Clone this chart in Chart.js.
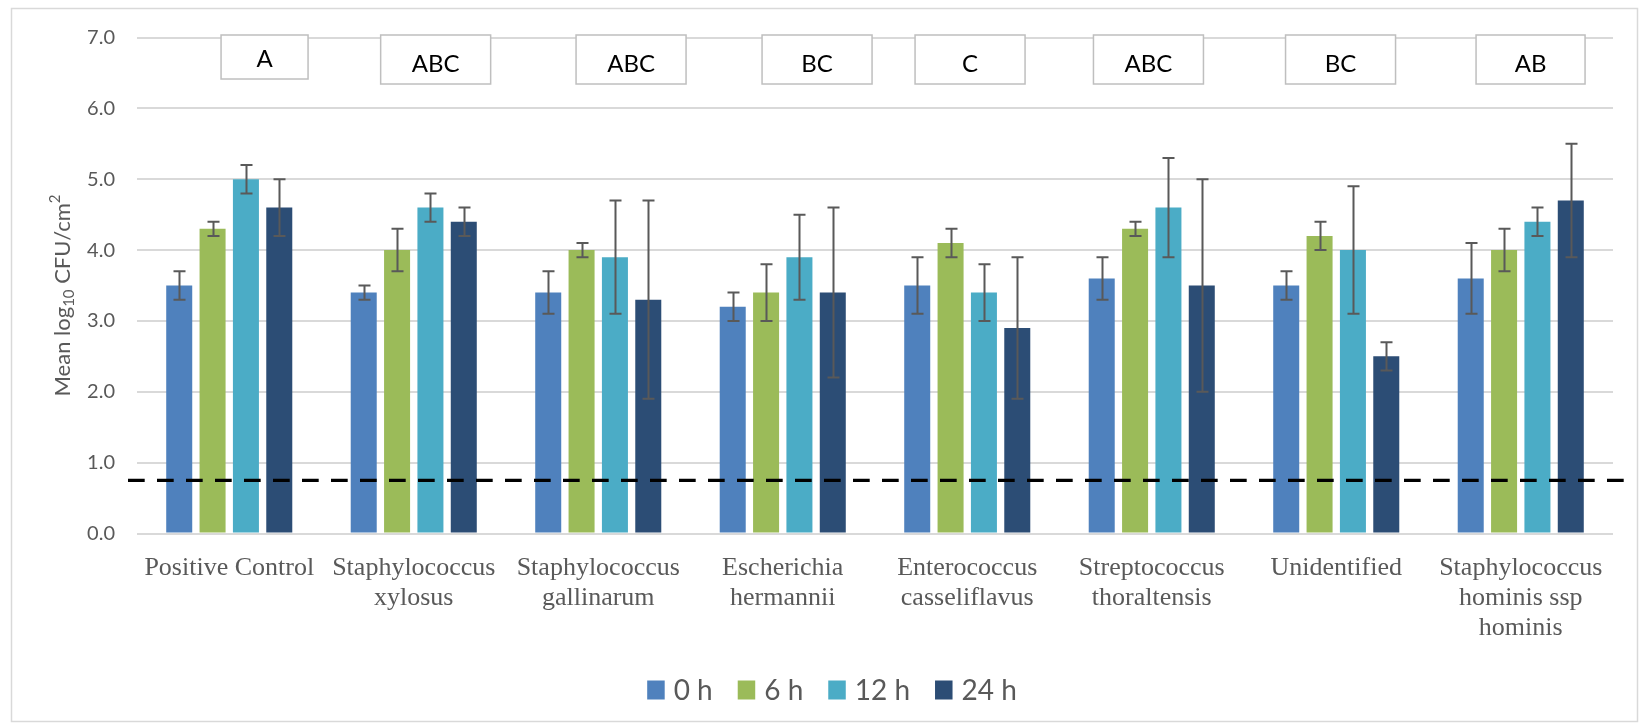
<!DOCTYPE html>
<html><head><meta charset="utf-8">
<script src="https://cdn.jsdelivr.net/npm/chart.js@4.4.0/dist/chart.umd.min.js"></script>
<style>html,body{margin:0;padding:0;background:#fff;} #wrap{width:1640px;height:724px;position:relative;}</style>
</head><body><div id="wrap"><canvas id="c" width="1640" height="724"></canvas></div>
<script>
const categories = [
  ['Positive Control'],
  ['Staphylococcus', 'xylosus'],
  ['Staphylococcus', 'gallinarum'],
  ['Escherichia', 'hermannii'],
  ['Enterococcus', 'casseliflavus'],
  ['Streptococcus', 'thoraltensis'],
  ['Unidentified'],
  ['Staphylococcus', 'hominis ssp', 'hominis']
];
const seriesNames = ['0 h', '6 h', '12 h', '24 h'];
const values0h  = [3.5, 3.4, 3.4, 3.2, 3.5, 3.6, 3.5, 3.6];
const values6h  = [4.3, 4.0, 4.0, 3.4, 4.1, 4.3, 4.2, 4.0];
const values12h = [5.0, 4.6, 3.9, 3.9, 3.4, 4.6, 4.0, 4.4];
const values24h = [4.6, 4.4, 3.3, 3.4, 2.9, 3.5, 2.5, 4.7];
const err0h  = [0.2, 0.1, 0.3, 0.2, 0.4, 0.3, 0.2, 0.5];
const err6h  = [0.1, 0.3, 0.1, 0.4, 0.2, 0.1, 0.2, 0.3];
const err12h = [0.2, 0.2, 0.8, 0.6, 0.4, 0.7, 0.9, 0.2];
const err24h = [0.4, 0.2, 1.4, 1.2, 1.0, 1.5, 0.2, 0.8];
const letters = ['A', 'ABC', 'ABC', 'BC', 'C', 'ABC', 'BC', 'AB'];
const detectionLimit = 0.75;
const yTicks = [0, 1, 2, 3, 4, 5, 6, 7];

const colors = ['#4F81BD', '#9BBB59', '#4BACC6', '#2C4D75'];
const allValues = [values0h, values6h, values12h, values24h];
const allErrors = [err0h, err6h, err12h, err24h];

const datasets = seriesNames.map((name, i) => ({
  label: name,
  data: allValues[i],
  errors: allErrors[i],
  backgroundColor: colors[i],
  borderWidth: 0,
  barPercentage: 0.78,
  categoryPercentage: 0.723
}));

const overlay = {
  id: 'overlay',
  beforeDraw(chart) {
    const ctx = chart.ctx;
    ctx.save();
    ctx.fillStyle = '#fff';
    ctx.fillRect(0, 0, chart.width, chart.height);
    ctx.strokeStyle = '#d9d9d9';
    ctx.lineWidth = 1.5;
    ctx.strokeRect(11.5, 8.5, 1626, 713);
    ctx.restore();
  },
  afterDatasetsDraw(chart, args, opts) {
    const ctx = chart.ctx, y = chart.scales.y, x = chart.scales.x, area = chart.chartArea;
    // detection limit line
    const yl = y.getPixelForValue(detectionLimit);
    ctx.save();
    ctx.strokeStyle = '#000';
    ctx.lineWidth = 3.2;
    ctx.setLineDash([16.7, 12.3]);
    ctx.beginPath();
    ctx.moveTo(area.left - 9, yl);
    ctx.lineTo(area.right + 12, yl);
    ctx.stroke();
    ctx.restore();
    // error bars
    ctx.save();
    ctx.strokeStyle = '#595959';
    ctx.lineWidth = 2;
    chart.data.datasets.forEach((ds, i) => {
      const meta = chart.getDatasetMeta(i);
      meta.data.forEach((bar, j) => {
        const v = ds.data[j], e = ds.errors[j];
        const t = y.getPixelForValue(v + e), b = y.getPixelForValue(v - e);
        const bx = Math.round(bar.x) + 0.5;
        ctx.beginPath();
        ctx.moveTo(bx, t); ctx.lineTo(bx, b);
        ctx.moveTo(bx - 6, t); ctx.lineTo(bx + 6, t);
        ctx.moveTo(bx - 6, b); ctx.lineTo(bx + 6, b);
        ctx.stroke();
      });
    });
    ctx.restore();
    // letter boxes
    const y7 = y.getPixelForValue(7);
    ctx.save();
    ctx.font = '24px Lato';
    ctx.textAlign = 'center';
    ctx.textBaseline = 'alphabetic';
    letters.forEach((L, i) => {
      const cx = x.getPixelForValue(i) + opts.dx[i];
      const w = opts.w[i], h = opts.h[i];
      const top = y7 - 2.5;
      ctx.fillStyle = '#fff';
      ctx.fillRect(cx - w / 2, top, w, h);
      ctx.strokeStyle = '#bfbfbf';
      ctx.lineWidth = 1.5;
      ctx.strokeRect(cx - w / 2, top, w, h);
      ctx.fillStyle = '#000';
      ctx.fillText(L, cx, top + h - 12);
    });
    ctx.restore();
  },
  afterDraw(chart, args, opts) {
    const ctx = chart.ctx, area = chart.chartArea;
    // y-axis title with sub/superscripts
    ctx.save();
    const cy = (area.top + area.bottom) / 2 + 10;
    ctx.translate(63, cy);
    ctx.rotate(-Math.PI / 2);
    ctx.fillStyle = '#595959';
    ctx.textBaseline = 'middle';
    ctx.textAlign = 'left';
    const big = '22px Lato', small = '15px Lato';
    const parts = [['Mean log', big, 0], ['10', small, 6], [' CFU/cm', big, 0], ['2', small, -8]];
    let total = 0;
    parts.forEach(p => { ctx.font = p[1]; total += ctx.measureText(p[0]).width; });
    let px = -total / 2;
    parts.forEach(p => { ctx.font = p[1]; ctx.fillText(p[0], px, p[2]); px += ctx.measureText(p[0]).width; });
    ctx.restore();
    // legend
    ctx.save();
    ctx.font = '28px Lato';
    ctx.textBaseline = 'middle';
    ctx.textAlign = 'left';
    const bw = 17.5, bh = 19, gap = 9, spacing = 25;
    const items = chart.data.datasets.map(ds => ({ t: ds.label, c: ds.backgroundColor, w: ctx.measureText(ds.label).width }));
    let tw = 0;
    items.forEach((it, k) => { tw += bw + gap + it.w + (k < items.length - 1 ? spacing : 0); });
    let lx = opts.legendCenter - tw / 2;
    const ly = opts.legendY;
    items.forEach(it => {
      ctx.fillStyle = it.c;
      ctx.fillRect(lx, ly - bh / 2, bw, bh);
      ctx.fillStyle = '#595959';
      ctx.fillText(it.t, lx + bw + gap, ly + 1);
      lx += bw + gap + it.w + spacing;
    });
    ctx.restore();
  }
};

new Chart(document.getElementById('c'), {
  type: 'bar',
  data: { labels: categories, datasets },
  options: {
    responsive: false,
    animation: false,
    devicePixelRatio: 1,
    layout: { padding: { left: 0, right: 27, top: 37.5, bottom: 0 } },
    plugins: {
      legend: { display: false },
      tooltip: { enabled: false },
      overlay: {
        dx: [35.3, 21.9, 32.8, 34.3, 2.8, -3.3, 4.3, 9.8],
        w: [87, 110, 110, 110, 110, 110, 110, 109],
        h: [44, 49, 49, 49, 49, 49, 49, 49],
        legendCenter: 832,
        legendY: 690
      }
    },
    scales: {
      x: {
        grid: { display: false, drawTicks: false },
        border: { display: false },
        ticks: {
          padding: 20, autoSkip: false, maxRotation: 0, minRotation: 0,
          color: '#595959',
          font: { family: '"Liberation Serif"', size: 26, lineHeight: 1.15 }
        },
        afterFit(s) { s.height = 190.5; }
      },
      y: {
        min: 0, max: 7,
        afterBuildTicks(s) { s.ticks = yTicks.map(v => ({ value: v })); },
        grid: { color: '#d9d9d9', lineWidth: 2, drawTicks: false },
        border: { display: false },
        ticks: {
          padding: 22, color: '#595959',
          font: { family: 'Lato', size: 20 },
          callback: v => Number(v).toFixed(1)
        },
        afterFit(s) { s.width = 137; }
      }
    }
  },
  plugins: [overlay]
});
</script>
</body></html>
